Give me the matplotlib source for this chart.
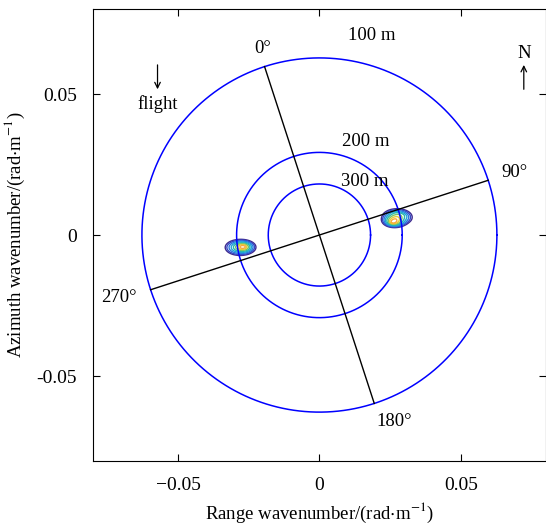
import numpy as np
import matplotlib.pyplot as plt

plt.rcParams['font.family'] = ['Liberation Serif', 'DejaVu Serif']
plt.rcParams['mathtext.fontset'] = 'stix'

# wavelength circles: label and radius (rad/m)
circle_labels = ['100 m', '200 m', '300 m']
circle_radius = [0.0628, 0.0293, 0.0181]
label_pos = [(0.0102, 0.0709), (0.0081, 0.0331), (0.0077, 0.0191)]
heading_deg = -18.0
angle_labels = ['0°', '90°', '180°', '270°']
angle_label_pos = [(-0.0201, 0.0662), (0.0690, 0.0223), (0.0264, -0.0662), (-0.0709, -0.0220)]

# spectral peaks (symmetric pair): peak position, outer-contour centre, half sizes
peak_x = [0.0261, -0.0270]
peak_y = [0.0046, -0.0042]
outer_x = [0.0275, -0.0280]
outer_y = [0.0063, -0.0044]
half_w = [0.0058, 0.0058]
half_h = [0.0033, 0.0031]
levels = [0.08, 0.18, 0.29, 0.40, 0.51, 0.62, 0.73, 0.84]
level_colors = ['#3f2a8e', '#3548c4', '#2a78e0', '#1fa4d8', '#25b8b0',
                '#7cc466', '#e6cc36', '#f8a93a']

fig = plt.figure(figsize=(5.46, 5.26), dpi=100)
ax = fig.add_axes([0.1709, 0.1243, 0.8282, 0.8578])

kx = np.linspace(-0.08, 0.08, 801)
ky = np.linspace(-0.08, 0.08, 801)
KX, KY = np.meshgrid(kx, ky)
for i in range(len(peak_x)):
    rho = np.hypot((KX - peak_x[i]) / half_w[i], (KY - peak_y[i]) / half_h[i])
    # let the contour centre drift from the peak toward the outer-contour centre
    s = np.clip(rho, 0, 1)
    cx = peak_x[i] + (outer_x[i] - peak_x[i]) * s
    cy = peak_y[i] + (outer_y[i] - peak_y[i]) * s
    r = np.hypot((KX - cx) / half_w[i], (KY - cy) / half_h[i])
    Z = 1 - r
    ax.contour(KX, KY, Z, levels=levels, colors=level_colors, linewidths=1.0)

t = np.linspace(0, 2 * np.pi, 400)
for r in circle_radius:
    ax.plot(r * np.cos(t), r * np.sin(t), color='#0000ff', lw=1.1)

rmax = circle_radius[0]
h = np.deg2rad(heading_deg)
# 0-180 line and 90-270 line
ax.plot([rmax * np.sin(h), -rmax * np.sin(h)], [rmax * np.cos(h), -rmax * np.cos(h)], color='k', lw=1.0)
ax.plot([rmax * np.cos(h), -rmax * np.cos(h)], [-rmax * np.sin(h), rmax * np.sin(h)], color='k', lw=1.0)

for lab, (x, y) in zip(circle_labels, label_pos):
    ax.text(x, y, lab, fontsize=13.5, ha='left', va='center')
for lab, (x, y) in zip(angle_labels, angle_label_pos):
    ax.text(x, y, lab, fontsize=13.5, ha='center', va='center')

# flight direction and north arrows
ax.annotate('', xy=(0.142, 0.823), xytext=(0.142, 0.877), xycoords='axes fraction',
            arrowprops=dict(arrowstyle='->', color='k', lw=0.9, shrinkA=0, shrinkB=0))
ax.text(0.142, 0.790, 'flight', transform=ax.transAxes, fontsize=13.5, ha='center', va='center')
ax.annotate('', xy=(0.952, 0.877), xytext=(0.952, 0.823), xycoords='axes fraction',
            arrowprops=dict(arrowstyle='->', color='k', lw=0.9, shrinkA=0, shrinkB=0))
ax.text(0.952, 0.902, 'N', transform=ax.transAxes, fontsize=13.5, ha='center', va='center')

ax.set_xlim(-0.08, 0.08)
ax.set_ylim(-0.08, 0.08)
ax.set_xticks([-0.05, 0, 0.05])
ax.set_xticklabels(['\u22120.05', '0', '0.05'])
ax.set_yticks([-0.05, 0, 0.05])
ax.set_yticklabels(['-0.05', '0', '0.05'])
ax.tick_params(direction='in', labelsize=14, length=5, top=True, right=True, pad=12)
ax.set_xlabel('Range wavenumber/(rad$\\cdot$m$^{-1}$)', fontsize=13.5)
ax.set_ylabel('Azimuth wavenumber/(rad$\\cdot$m$^{-1}$)', fontsize=13.5)
ax.xaxis.set_label_coords(0.5, -0.090)
ax.yaxis.set_label_coords(-0.146, 0.5)

fig.savefig('out.png', dpi=100)
